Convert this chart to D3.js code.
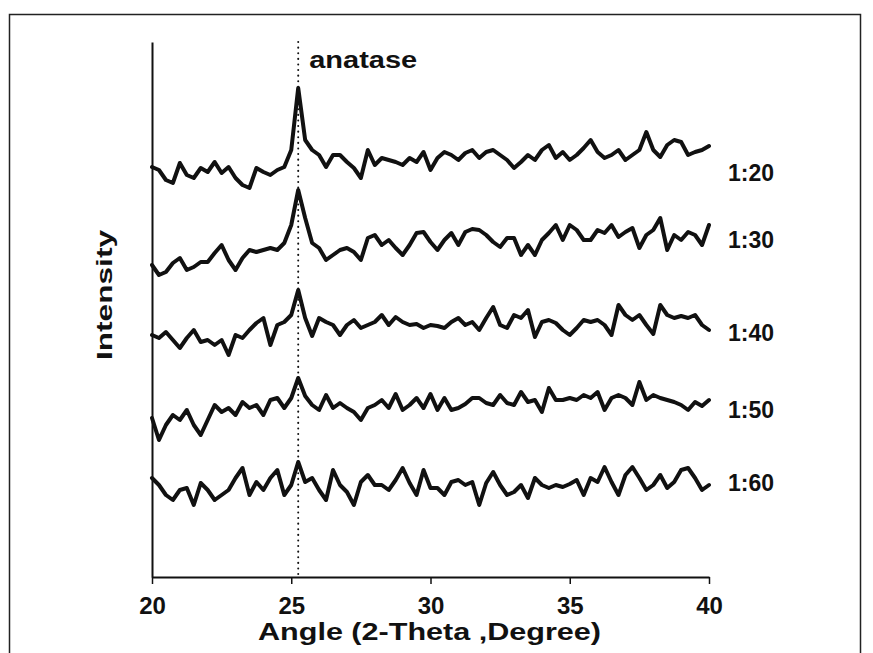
<!DOCTYPE html>
<html>
<head>
<meta charset="utf-8">
<script src="https://cdn.jsdelivr.net/npm/d3@7"></script>
<style>
  body { margin: 0; background: #fff; }
  text { font-family: "Liberation Sans", Arial, sans-serif; font-weight: bold; fill: #111; }
</style>
</head>
<body>
<svg id="chart"></svg>
<script>
// XRD patterns, 2-theta 20..40 read every 0.25 degree
const thetaStart = 20;
const thetaStep = 0.25;
const samples = ["1:20", "1:30", "1:40", "1:50", "1:60"];

// intensity (a.u., offset per sample)
const s120 = [396,393,383,380,400,388,385,395,391,401, 390,396,385,378,375,395,391,388,393,396,
  413,475,423,413,408,396,408,408,401,395, 385,413,398,405,403,401,398,405,401,411,
  393,405,411,408,403,410,413,405,411,413, 408,403,395,401,408,403,413,418,405,411,
  403,408,415,423,411,405,408,413,403,408, 413,431,413,406,418,423,421,408,411,413, 417];
const s130 = [298,288,291,300,305,293,296,301,301,310, 318,303,293,305,313,311,313,315,313,320,
  338,373,345,320,315,303,308,313,315,311, 303,325,328,318,323,315,308,318,330,331,
  321,313,323,330,318,331,334,333,328,321, 316,325,325,308,318,308,323,330,338,323,
  338,333,323,323,333,330,338,326,331,335, 315,328,333,345,313,328,323,331,328,318, 338];
const s140 = [228,225,231,223,215,225,233,221,223,218, 223,208,228,225,233,240,245,218,238,241,
  248,273,245,227,245,241,238,228,238,243, 235,238,241,248,238,246,241,238,239,235,
  238,237,235,241,245,238,241,233,245,256, 238,235,248,245,253,226,241,243,240,233,
  228,235,243,241,243,238,228,258,248,243, 248,238,229,258,248,245,247,245,248,238, 233];
const s150 = [145,123,138,148,143,153,138,128,143,158, 151,155,148,161,155,158,148,163,165,155,
  165,185,167,158,153,168,155,160,155,151, 143,155,158,163,155,169,153,158,165,155,
  169,153,165,153,155,159,165,165,160,158, 168,160,158,171,161,163,151,175,163,163,
  165,163,168,165,171,153,165,168,165,158, 181,163,168,165,163,161,158,153,161,157, 163];
const s160 = [85,78,68,63,73,75,58,80,73,63, 68,73,85,95,68,81,73,85,93,68,
  78,101,81,85,73,63,93,78,71,58, 81,88,78,78,73,83,95,80,68,93,
  75,75,68,81,83,78,81,58,80,91, 78,68,71,78,65,85,78,75,78,76,
  79,83,68,85,81,96,81,68,88,96, 85,73,78,88,75,81,93,95,85,73, 78];
const seriesValues = [s120, s130, s140, s150, s160];
const labelLevels = [390, 323, 230, 153, 80];

const xTicks = [20, 25, 30, 35, 40];
const anatasePeak = 25.25;

const width = 873, height = 653;
const x = d3.scaleLinear([20, 40], [152, 709]);
const y = d3.scaleLinear([-14, 521], [577, 42]);

const svg = d3.select("#chart")
  .attr("width", width)
  .attr("height", height)
  .attr("viewBox", [0, 0, width, height]);

// outer frame (bottom edge runs off the picture)
svg.append("rect")
  .attr("x", 9.5).attr("y", 14.5)
  .attr("width", 851).attr("height", 700)
  .attr("fill", "none")
  .attr("stroke", "#222")
  .attr("stroke-width", 1.5);

// anatase marker
svg.append("line")
  .attr("x1", x(anatasePeak)).attr("x2", x(anatasePeak))
  .attr("y1", y(521)).attr("y2", y(-14))
  .attr("stroke", "#111")
  .attr("stroke-width", 2)
  .attr("stroke-linecap", "round")
  .attr("stroke-dasharray", "0.1,5.5");

svg.append("text")
  .attr("x", x(anatasePeak) + 11)
  .attr("y", 68)
  .attr("font-size", 23)
  .attr("textLength", 108)
  .attr("lengthAdjust", "spacingAndGlyphs")
  .text("anatase");

const line = d3.line()
  .x((d, i) => x(thetaStart + i * thetaStep))
  .y(d => y(d));

svg.append("g")
  .selectAll("path")
  .data(seriesValues)
  .join("path")
  .attr("d", line)
  .attr("fill", "none")
  .attr("stroke", "#111")
  .attr("stroke-width", 4)
  .attr("stroke-linejoin", "round")
  .attr("stroke-linecap", "round");

svg.append("g")
  .selectAll("text")
  .data(samples)
  .join("text")
  .attr("x", 728)
  .attr("y", (d, i) => y(labelLevels[i]))
  .attr("dy", "0.35em")
  .attr("font-size", 23)
  .text(d => d);

// axes
svg.append("g")
  .attr("transform", `translate(0,${y(-14)})`)
  .call(d3.axisBottom(x).tickValues(xTicks).tickSize(7).tickSizeOuter(0).tickPadding(13))
  .call(g => g.select(".domain").attr("stroke", "#111").attr("stroke-width", 2))
  .call(g => g.selectAll(".tick line").attr("stroke", "#111").attr("stroke-width", 1.5))
  .call(g => g.selectAll(".tick text")
    .attr("font-size", 24)
    .attr("font-family", "Liberation Sans, Arial, sans-serif")
    .attr("font-weight", "bold")
    .attr("fill", "#111"));

svg.append("g")
  .attr("transform", `translate(${x(20)},0)`)
  .call(d3.axisLeft(y).ticks(0).tickSizeOuter(0))
  .call(g => g.select(".domain").attr("stroke", "#111").attr("stroke-width", 2));

svg.append("text")
  .attr("x", 258)
  .attr("y", 640)
  .attr("font-size", 24)
  .attr("textLength", 343)
  .attr("lengthAdjust", "spacingAndGlyphs")
  .text("Angle (2-Theta ,Degree)");

svg.append("text")
  .attr("transform", "translate(112,360) rotate(-90)")
  .attr("font-size", 22)
  .attr("textLength", 130)
  .attr("lengthAdjust", "spacingAndGlyphs")
  .text("Intensity");
</script>
</body>
</html>
